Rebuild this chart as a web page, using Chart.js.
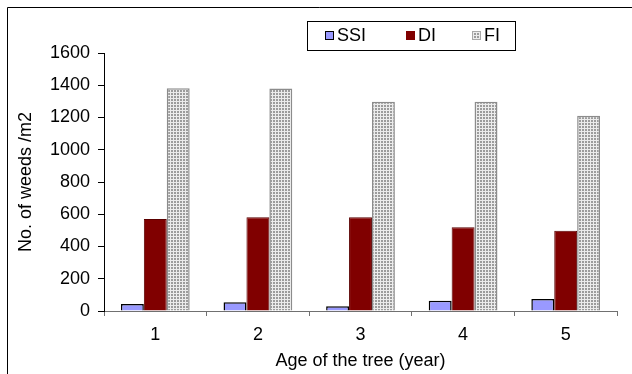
<!DOCTYPE html>
<html>
<head>
<meta charset="utf-8">
<script src="https://cdn.jsdelivr.net/npm/chart.js"></script>
<style>
  html, body { margin: 0; padding: 0; background: #fff; }
  #wrap { width: 632px; height: 374px; }
</style>
</head>
<body>
<div id="wrap"><canvas id="weeds" width="632" height="374"></canvas></div>

<script>
    // values
    const ages = ['1', '2', '3', '4', '5'];
    const ssi = [43, 55, 30, 63, 74];
    const di = [571, 581, 581, 519, 498];
    const fi = [1381, 1380, 1298, 1298, 1211];
    const yTicks = [0, 200, 400, 600, 800, 1000, 1200, 1400, 1600];

    const FONT = 'Liberation Sans, Arial, sans-serif';

    // small grey grid fill for the FI bars
    function gridPattern() {
        const c = document.createElement('canvas');
        c.width = 3; c.height = 3;
        const g = c.getContext('2d');
        g.fillStyle = '#9c9c9c';
        g.fillRect(0, 0, 3, 3);
        g.fillStyle = '#ececec';
        g.fillRect(2, 0, 1, 3);
        g.fillRect(0, 2, 3, 1);
        return g.createPattern(c, 'repeat');
    }
    const fiFill = gridPattern();

    // outer frame + white background
    const frame = {
        id: 'frame',
        beforeDraw(chart) {
            const ctx = chart.ctx;
            ctx.save();
            ctx.fillStyle = '#fff';
            ctx.fillRect(0, 0, chart.width, chart.height);
            ctx.strokeStyle = '#000';
            ctx.lineWidth = 1;
            ctx.beginPath();
            ctx.moveTo(7.5, chart.height);
            ctx.lineTo(7.5, 7.5);
            ctx.lineTo(chart.width, 7.5);
            ctx.stroke();
            ctx.restore();
        }
    };

    // boxed legend placed like the original
    const boxLegend = {
        id: 'boxLegend',
        afterDraw(chart) {
            const ctx = chart.ctx;
            ctx.save();
            ctx.strokeStyle = '#000';
            ctx.lineWidth = 1;
            ctx.strokeRect(307.5, 21.5, 208, 29);
            const xs = [325, 406, 472];
            ctx.font = '18px ' + FONT;
            ctx.textBaseline = 'middle';
            chart.data.datasets.forEach(function (ds, i) {
                const x = xs[i];
                ctx.fillStyle = ds.backgroundColor;
                ctx.fillRect(x, 31, 9, 9);
                ctx.strokeStyle = ds.legendBorder;
                ctx.strokeRect(x + 0.5, 31.5, 8, 8);
                ctx.fillStyle = '#000';
                ctx.fillText(ds.label, x + 12, 36);
            });
            ctx.restore();
        }
    };

    const data = {
        labels: ages,
        datasets: [
            { label: 'SSI', data: ssi, backgroundColor: '#9999ff', borderColor: '#000', borderWidth: 1.5, legendBorder: '#000' },
            { label: 'DI', data: di, backgroundColor: '#800000', borderColor: '#5a0000', borderWidth: 1, legendBorder: '#800000' },
            { label: 'FI', data: fi, backgroundColor: fiFill, borderColor: '#8c8c8c', borderWidth: 1.5, legendBorder: '#a8a8a8' }
        ]
    };

    const config = {
        type: 'bar',
        data: data,
        options: {
            responsive: false,
            animation: false,
            devicePixelRatio: 1,
            layout: { padding: { left: 8, top: 53, right: 15, bottom: 0 } },
            datasets: { bar: { categoryPercentage: 0.67, barPercentage: 1 } },
            plugins: { legend: { display: false }, tooltip: { enabled: false } },
            scales: {
                x: {
                    grid: { display: true, drawOnChartArea: false, drawTicks: true, tickLength: 5, color: '#707070', offset: true },
                    border: { display: true, color: '#707070', width: 1 },
                    ticks: { color: '#000', font: { family: FONT, size: 18 }, padding: 8, maxRotation: 0 },
                    title: { display: true, text: 'Age of the tree (year)', color: '#000', font: { family: FONT, size: 18, lineHeight: 1.2 }, padding: { top: 0, bottom: 2 } },
                    afterFit(scale) { scale.height = 374 - 311; }
                },
                y: {
                    min: 0, max: 1600,
                    afterBuildTicks(scale) { scale.ticks = yTicks.map(v => ({ value: v })); },
                    grid: { display: true, drawOnChartArea: false, drawTicks: true, tickLength: 6, color: '#000' },
                    border: { display: true, color: '#000', width: 1 },
                    ticks: { color: '#000', font: { family: FONT, size: 18 }, padding: 8, callback: v => String(v) },
                    title: { display: true, text: 'No. of weeds /m2', color: '#000', font: { family: FONT, size: 18, lineHeight: 1.2 }, padding: { top: 7, bottom: 0 } },
                    afterFit(scale) { scale.width = 104 - 8; }
                }
            }
        },
        plugins: [frame, boxLegend]
    };

    const chart = new Chart(document.getElementById('weeds'), config);
</script>
</body>
</html>
